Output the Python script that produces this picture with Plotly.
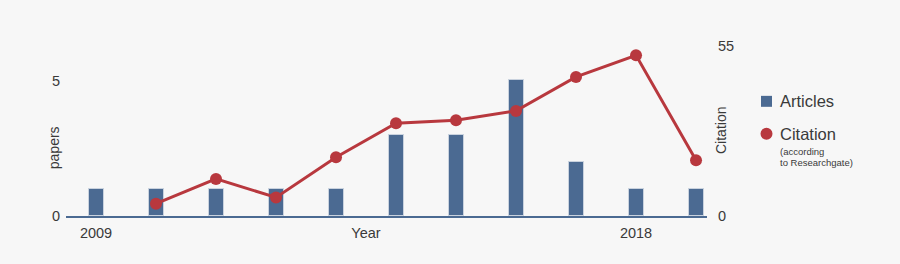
import plotly.graph_objects as go

years = [2009, 2010, 2011, 2012, 2013, 2014, 2015, 2016, 2017, 2018, 2019]
articles = [1, 1, 1, 1, 1, 3, 3, 5, 2, 1, 1]
cit_years = [2010, 2011, 2012, 2013, 2014, 2015, 2016, 2017, 2018, 2019]
citations = [4, 12, 6, 19, 30, 31, 34, 45, 52, 18]
xtick_vals = [2009, 2013.5, 2018]
xtick_text = ["2009", "Year", "2018"]

BLUE = "#4b6a92"
RED = "#b8383e"
TXT = "#3a3a3a"
FONT = "Liberation Sans, Arial, sans-serif"

W, H = 900, 264
L, R, T, B = 66, 707, 46, 216.5


def px(x):
    return (x - L) / (R - L)


def py(y):
    return (B - y) / (B - T)


fig = go.Figure()
fig.add_trace(go.Bar(
    x=years, y=articles, width=0.25, yaxis="y",
    marker=dict(color=BLUE, line=dict(color="#c9d2de", width=1)),
    name="Articles", showlegend=False,
))
fig.add_trace(go.Scatter(
    x=cit_years, y=citations, yaxis="y2", mode="lines+markers",
    line=dict(color=RED, width=3), marker=dict(color=RED, size=12),
    name="Citation", showlegend=False,
))

shapes = [
    dict(type="rect", xref="paper", yref="paper",
         x0=px(761), x1=px(772), y0=py(107), y1=py(96),
         fillcolor=BLUE, line=dict(width=0)),
    dict(type="circle", xref="paper", yref="paper",
         x0=px(760.5), x1=px(772.5), y0=py(140), y1=py(128),
         fillcolor=RED, line=dict(width=0)),
]

annotations = [
    dict(text="papers", xref="paper", yref="y", x=px(54), y=2.5,
         xanchor="center", yanchor="middle",
         textangle=-90, showarrow=False, font=dict(size=14, color=TXT, family=FONT)),
    dict(text="Citation", xref="paper", yref="y2", x=px(721), y=27.5,
         xanchor="center", yanchor="middle",
         textangle=-90, showarrow=False, font=dict(size=14, color=TXT, family=FONT)),
    dict(text="Articles", xref="paper", yref="paper", x=px(778), y=py(101.5),
         xanchor="left", yanchor="middle", showarrow=False,
         font=dict(size=16.5, color=TXT, family=FONT)),
    dict(text="Citation", xref="paper", yref="paper", x=px(778), y=py(134),
         xanchor="left", yanchor="middle", showarrow=False,
         font=dict(size=16.5, color=TXT, family=FONT)),
    dict(text="(according", xref="paper", yref="paper", x=px(778), y=py(152),
         xanchor="left", yanchor="middle", showarrow=False,
         font=dict(size=9.5, color=TXT, family=FONT)),
    dict(text="to Researchgate)", xref="paper", yref="paper", x=px(778), y=py(162.5),
         xanchor="left", yanchor="middle", showarrow=False,
         font=dict(size=9.5, color=TXT, family=FONT)),
]

fig.update_layout(
    width=W, height=H,
    margin=dict(l=L, r=W - R, t=T, b=H - B, pad=0),
    paper_bgcolor="#f7f7f7", plot_bgcolor="#f7f7f7",
    font=dict(family=FONT, color=TXT, size=14.5),
    showlegend=False,
    xaxis=dict(range=[2008.5, 2019.183], tickvals=xtick_vals, ticktext=xtick_text,
               showgrid=False, zeroline=False, showline=True, linecolor=BLUE,
               linewidth=2, ticks="", ticklabelstandoff=3),
    yaxis=dict(range=[0, 6.27], tickvals=[0, 5], showgrid=False, zeroline=False,
               showline=False, ticks="", ticklabelstandoff=5),
    yaxis2=dict(range=[0, 55], tickvals=[0, 55], overlaying="y", side="right",
                showgrid=False, zeroline=False, showline=False, ticks="",
                ticklabelstandoff=10),
    bargap=0,
    shapes=shapes,
    annotations=annotations,
)

fig.write_html("out.html")
